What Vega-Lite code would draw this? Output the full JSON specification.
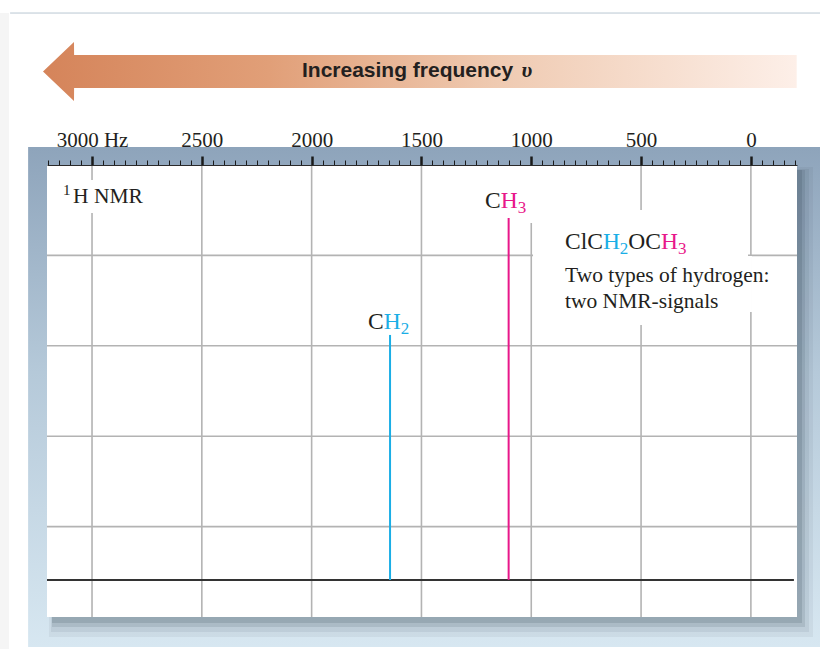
{
  "$schema": "https://vega.github.io/schema/vega-lite/v6.json",
  "width": 750,
  "height": 452,
  "autosize": {"type": "none"},
  "padding": {"left": 47, "top": 165, "right": 23, "bottom": 32},
  "background": "white",
  "config": {"view": {"stroke": null}, "font": "Liberation Serif"},
  "resolve": {"axis": {"x": "independent", "y": "independent"}},
  "datasets": {
    "strip": [{"x": 3419, "x2": 3378, "y": 6.681, "y2": -0.36}],
    "topline": [{"x": 3373, "x2": -330, "y": 6.681}],
    "panel": [{"x": 3291, "x2": -330, "y": 5.199, "y2": -0.332}],
    "plot": [{"x": 3205, "x2": -210, "y": 5, "y2": 0}],
    "arrow": [
      {"x": -208.6, "y": 5.852, "y2": 6.217},
      {"x": 3081.6, "y": 5.852, "y2": 6.217},
      {"x": 3082.1, "y": 5.708, "y2": 6.361},
      {"x": 3223.2, "y": 6.034, "y2": 6.034}
    ],
    "vgrid": [{"x": 3000}, {"x": 2500}, {"x": 2000}, {"x": 1500}, {"x": 1000}, {"x": 500}, {"x": 0}],
    "hgrid": [{"y": 1}, {"y": 2}, {"y": 3}, {"y": 4}],
    "boxes": [
      {"x": 3155, "x2": 2754, "y": 4.834, "y2": 4.469},
      {"x": 1233, "x2": 974, "y": 5.0, "y2": 4.358},
      {"x": 992, "x2": 13, "y": 4.502, "y2": 3.971},
      {"x": 992, "x2": -5, "y": 3.993, "y2": 3.374},
      {"x": 992, "x2": 232, "y": 3.507, "y2": 3.23}
    ],
    "base": [{"x": 3205, "x2": -196, "y": 0.409}],
    "peaks": [
      {"x": 1643, "y": 0.409, "y2": 3.12, "grp": "CH2"},
      {"x": 1103, "y": 0.409, "y2": 4.414, "grp": "CH3"}
    ],
    "labels": [
      {"txt": "C", "x": 1210.7, "y": 4.524, "grp": "other", "kind": "main"},
      {"txt": "H", "x": 1139.2, "y": 4.524, "grp": "CH3", "kind": "main"},
      {"txt": "3", "x": 1061.8, "y": 4.524, "grp": "CH3", "kind": "sub"},
      {"txt": "C", "x": 1743.4, "y": 3.186, "grp": "other", "kind": "main"},
      {"txt": "H", "x": 1671.9, "y": 3.186, "grp": "CH2", "kind": "main"},
      {"txt": "2", "x": 1594.5, "y": 3.186, "grp": "CH2", "kind": "sub"},
      {"txt": "ClC", "x": 846.4, "y": 4.071, "grp": "other", "kind": "main"},
      {"txt": "H", "x": 673.8, "y": 4.071, "grp": "CH2", "kind": "main"},
      {"txt": "2", "x": 596.9, "y": 4.071, "grp": "CH2", "kind": "sub"},
      {"txt": "OC", "x": 558.2, "y": 4.071, "grp": "other", "kind": "main"},
      {"txt": "H", "x": 409.7, "y": 4.071, "grp": "CH3", "kind": "main"},
      {"txt": "3", "x": 332.3, "y": 4.071, "grp": "CH3", "kind": "sub"},
      {"txt": "Two types of hydrogen:", "x": 846.4, "y": 3.709, "grp": "other", "kind": "desc"},
      {"txt": "two NMR-signals", "x": 846.4, "y": 3.421, "grp": "other", "kind": "desc"},
      {"txt": "1", "x": 3132.1, "y": 4.58, "grp": "other", "kind": "sup"},
      {"txt": "H NMR", "x": 3086.6, "y": 4.58, "grp": "other", "kind": "desc"}
    ],
    "arrowtext": [
      {"txt": "Increasing frequency", "x": 2044, "y": 5.973, "kind": "sans"},
      {"txt": "υ", "x": 1045, "y": 5.973, "kind": "greek"}
    ]
  },
  "layer": [
    {
      "data": {"name": "strip"},
      "mark": {"type": "rect", "color": "#f5f5f5", "clip": false},
      "encoding": {
        "x": {"field": "x", "type": "quantitative", "scale": {"domain": [3205, -210], "nice": false, "zero": false}, "axis": null},
        "x2": {"field": "x2"},
        "y": {"field": "y", "type": "quantitative", "scale": {"domain": [0, 5], "nice": false, "zero": false}, "axis": null},
        "y2": {"field": "y2"}
      }
    },
    {
      "data": {"name": "topline"},
      "mark": {"type": "rule", "color": "#b9c7d3", "strokeWidth": 1, "clip": false},
      "encoding": {
        "x": {"field": "x", "type": "quantitative", "axis": null},
        "x2": {"field": "x2"},
        "y": {"field": "y", "type": "quantitative", "axis": null}
      }
    },
    {
      "data": {"name": "panel"},
      "mark": {"type": "rect", "clip": false,
        "color": {"gradient": "linear", "x1": 0, "y1": 0, "x2": 0, "y2": 1,
          "stops": [{"offset": 0, "color": "#8ea4bb"}, {"offset": 0.45, "color": "#b5c9d9"}, {"offset": 1, "color": "#d7e7f1"}]}},
      "encoding": {
        "x": {"field": "x", "type": "quantitative", "axis": null},
        "x2": {"field": "x2"},
        "y": {"field": "y", "type": "quantitative", "axis": null},
        "y2": {"field": "y2"}
      }
    },
    {
      "data": {"name": "plot"},
      "mark": {"type": "rect", "clip": false, "color": "#2b3b4c", "opacity": 0.06, "xOffset": 2, "x2Offset": 16, "yOffset": 2, "y2Offset": 20},
      "encoding": {
        "x": {"field": "x", "type": "quantitative", "axis": null}, "x2": {"field": "x2"},
        "y": {"field": "y", "type": "quantitative", "axis": null}, "y2": {"field": "y2"}
      }
    },
    {
      "data": {"name": "plot"},
      "mark": {"type": "rect", "clip": false, "color": "#2b3b4c", "opacity": 0.08, "xOffset": 4, "x2Offset": 12, "yOffset": 4, "y2Offset": 15},
      "encoding": {
        "x": {"field": "x", "type": "quantitative", "axis": null}, "x2": {"field": "x2"},
        "y": {"field": "y", "type": "quantitative", "axis": null}, "y2": {"field": "y2"}
      }
    },
    {
      "data": {"name": "plot"},
      "mark": {"type": "rect", "clip": false, "color": "#2b3b4c", "opacity": 0.12, "xOffset": 5, "x2Offset": 8, "yOffset": 5, "y2Offset": 10},
      "encoding": {
        "x": {"field": "x", "type": "quantitative", "axis": null}, "x2": {"field": "x2"},
        "y": {"field": "y", "type": "quantitative", "axis": null}, "y2": {"field": "y2"}
      }
    },
    {
      "data": {"name": "plot"},
      "mark": {"type": "rect", "clip": false, "color": "#2b3b4c", "opacity": 0.15, "xOffset": 5, "x2Offset": 5, "yOffset": 5, "y2Offset": 6},
      "encoding": {
        "x": {"field": "x", "type": "quantitative", "axis": null}, "x2": {"field": "x2"},
        "y": {"field": "y", "type": "quantitative", "axis": null}, "y2": {"field": "y2"}
      }
    },
    {
      "data": {"name": "plot"},
      "mark": {"type": "rect", "clip": false, "color": "#ffffff"},
      "encoding": {
        "x": {"field": "x", "type": "quantitative",
          "axis": {
            "orient": "top", "title": null, "grid": false, "zindex": 2,
            "values": [3200,3150,3100,3050,3000,2950,2900,2850,2800,2750,2700,2650,2600,2550,2500,2450,2400,2350,2300,2250,2200,2150,2100,2050,2000,1950,1900,1850,1800,1750,1700,1650,1600,1550,1500,1450,1400,1350,1300,1250,1200,1150,1100,1050,1000,950,900,850,800,750,700,650,600,550,500,450,400,350,300,250,200,150,100,50,0,-50,-100,-150,-200],
            "format": "d",
            "labelExpr": "datum.value % 500 === 0 ? (datum.value === 3000 ? '3000 Hz' : datum.label) : ''",
            "labelFont": "Liberation Serif", "labelFontSize": 21, "labelColor": "#231f20",
            "labelPadding": 6, "labelOverlap": false, "labelFlush": false, "labelBound": false,
            "domain": true, "domainColor": "#2a2a2a", "domainWidth": 1,
            "ticks": true, "tickColor": "#1a1a1a",
            "tickSize": {"condition": {"test": "datum.value % 500 === 0", "value": 9}, "value": 5},
            "tickWidth": {"condition": {"test": "datum.value % 500 === 0", "value": 2.5}, "value": 1}
          }},
        "x2": {"field": "x2"},
        "y": {"field": "y", "type": "quantitative", "axis": null}, "y2": {"field": "y2"}
      }
    },
    {
      "data": {"name": "vgrid"},
      "mark": {"type": "rule", "color": "#b3b3b3", "strokeWidth": 1.6},
      "encoding": {"x": {"field": "x", "type": "quantitative", "axis": null}}
    },
    {
      "data": {"name": "hgrid"},
      "mark": {"type": "rule", "color": "#b3b3b3", "strokeWidth": 1.6},
      "encoding": {"y": {"field": "y", "type": "quantitative", "axis": null}}
    },
    {
      "data": {"name": "boxes"},
      "mark": {"type": "rect", "color": "#ffffff"},
      "encoding": {
        "x": {"field": "x", "type": "quantitative", "axis": null}, "x2": {"field": "x2"},
        "y": {"field": "y", "type": "quantitative", "axis": null}, "y2": {"field": "y2"}
      }
    },
    {
      "data": {"name": "base"},
      "mark": {"type": "rule", "color": "#333333", "strokeWidth": 2},
      "encoding": {
        "x": {"field": "x", "type": "quantitative", "axis": null}, "x2": {"field": "x2"},
        "y": {"field": "y", "type": "quantitative", "axis": null}
      }
    },
    {
      "data": {"name": "peaks"},
      "mark": {"type": "rule", "strokeWidth": 2},
      "encoding": {
        "x": {"field": "x", "type": "quantitative", "axis": null},
        "y": {"field": "y", "type": "quantitative", "axis": null}, "y2": {"field": "y2"},
        "color": {"field": "grp", "type": "nominal", "legend": null,
          "scale": {"domain": ["other", "CH2", "CH3"], "range": ["#231f20", "#1aaee6", "#e8178a"]}}
      }
    },
    {
      "data": {"name": "arrow"},
      "mark": {"type": "area", "clip": false, "orient": "vertical",
        "color": {"gradient": "linear", "x1": 0, "y1": 0, "x2": 1, "y2": 0,
          "stops": [{"offset": 0, "color": "#d5845a"}, {"offset": 0.3, "color": "#e19f78"}, {"offset": 0.6, "color": "#efcab1"}, {"offset": 1, "color": "#fdefe8"}]}},
      "encoding": {
        "x": {"field": "x", "type": "quantitative", "axis": null},
        "y": {"field": "y", "type": "quantitative", "axis": null}, "y2": {"field": "y2"}
      }
    },
    {
      "data": {"name": "arrowtext"},
      "transform": [{"filter": "datum.kind === 'sans'"}],
      "mark": {"type": "text", "clip": false, "align": "left", "baseline": "alphabetic", "font": "Liberation Sans", "fontWeight": "bold", "fontSize": 21, "color": "#231f20"},
      "encoding": {
        "x": {"field": "x", "type": "quantitative", "axis": null},
        "y": {"field": "y", "type": "quantitative", "axis": null},
        "text": {"field": "txt"}
      }
    },
    {
      "data": {"name": "arrowtext"},
      "transform": [{"filter": "datum.kind === 'greek'"}],
      "mark": {"type": "text", "clip": false, "align": "left", "baseline": "alphabetic", "font": "Liberation Serif", "fontStyle": "italic", "fontWeight": "bold", "fontSize": 22, "color": "#231f20"},
      "encoding": {
        "x": {"field": "x", "type": "quantitative", "axis": null},
        "y": {"field": "y", "type": "quantitative", "axis": null},
        "text": {"field": "txt"}
      }
    },
    {
      "data": {"name": "labels"},
      "transform": [{"filter": "datum.kind === 'main'"}],
      "mark": {"type": "text", "align": "left", "baseline": "alphabetic", "font": "Liberation Serif", "fontSize": 23.5},
      "encoding": {
        "x": {"field": "x", "type": "quantitative", "axis": null},
        "y": {"field": "y", "type": "quantitative", "axis": null},
        "text": {"field": "txt"},
        "color": {"field": "grp", "type": "nominal", "legend": null}
      }
    },
    {
      "data": {"name": "labels"},
      "transform": [{"filter": "datum.kind === 'sub'"}],
      "mark": {"type": "text", "align": "left", "baseline": "alphabetic", "font": "Liberation Serif", "fontSize": 17, "dy": 5},
      "encoding": {
        "x": {"field": "x", "type": "quantitative", "axis": null},
        "y": {"field": "y", "type": "quantitative", "axis": null},
        "text": {"field": "txt"},
        "color": {"field": "grp", "type": "nominal", "legend": null}
      }
    },
    {
      "data": {"name": "labels"},
      "transform": [{"filter": "datum.kind === 'sup'"}],
      "mark": {"type": "text", "align": "left", "baseline": "alphabetic", "font": "Liberation Serif", "fontSize": 15, "dy": -8},
      "encoding": {
        "x": {"field": "x", "type": "quantitative", "axis": null},
        "y": {"field": "y", "type": "quantitative", "axis": null},
        "text": {"field": "txt"},
        "color": {"field": "grp", "type": "nominal", "legend": null}
      }
    },
    {
      "data": {"name": "labels"},
      "transform": [{"filter": "datum.kind === 'desc'"}],
      "mark": {"type": "text", "align": "left", "baseline": "alphabetic", "font": "Liberation Serif", "fontSize": 21.5},
      "encoding": {
        "x": {"field": "x", "type": "quantitative", "axis": null},
        "y": {"field": "y", "type": "quantitative", "axis": null},
        "text": {"field": "txt"},
        "color": {"field": "grp", "type": "nominal", "legend": null}
      }
    }
  ]
}
